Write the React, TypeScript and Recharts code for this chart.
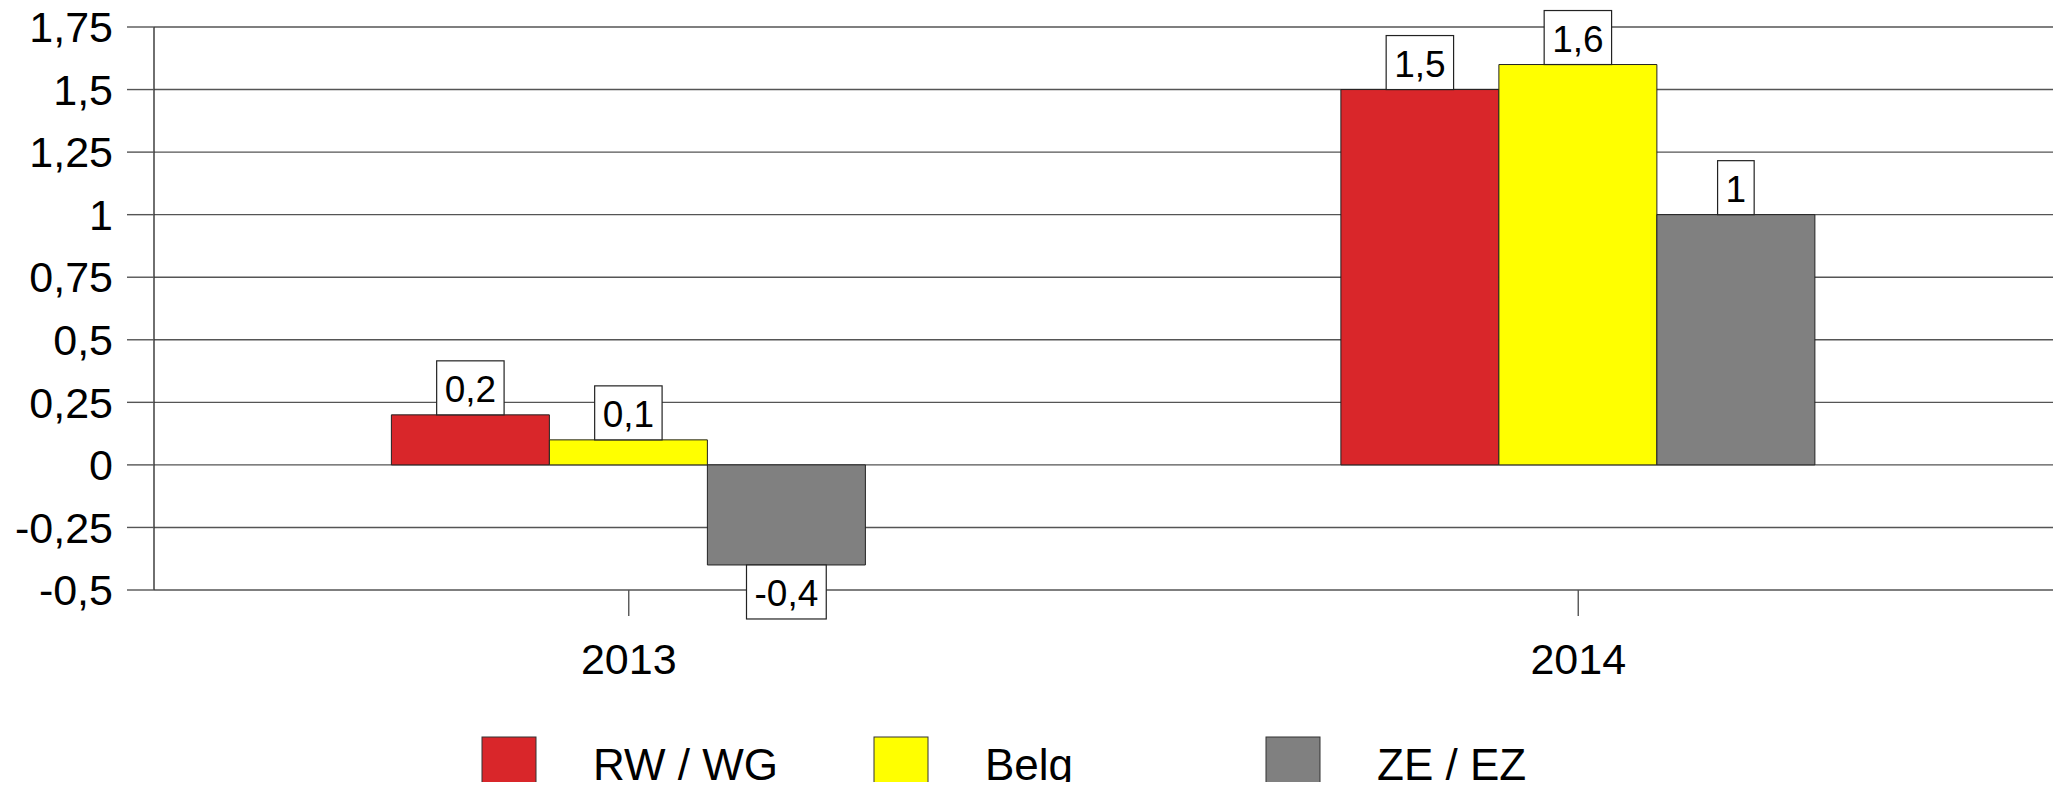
import { BarChart, Bar, XAxis, YAxis, CartesianGrid, Legend, LabelList } from 'recharts';

const categories = ['2013', '2014'];
const rwWg = [0.2, 1.5];
const belg = [0.1, 1.6];
const zeEz = [-0.4, 1];
const yTicks = [-0.5, -0.25, 0, 0.25, 0.5, 0.75, 1, 1.25, 1.5, 1.75];

const SERIES = [
  { key: 'rw', name: 'RW / WG', color: '#d9262a' },
  { key: 'belg', name: 'Belg', color: '#ffff00' },
  { key: 'ze', name: 'ZE / EZ', color: '#808080' },
];

const FONT = '"Liberation Sans", Arial, sans-serif';

const data = categories.map((year, i) => ({
  year,
  rw: rwWg[i],
  belg: belg[i],
  ze: zeEz[i],
}));

// German/Belgian style decimal comma
const fmt = (v: number) => String(v).replace('.', ',');

// rough Arial widths, enough to size the label boxes
const textWidth = (s: string, size: number) =>
  s.split('').reduce((w, ch) => w + (ch === ',' ? 0.278 : ch === '-' ? 0.333 : 0.556), 0) * size;

const renderLabel = (props: any) => {
  const x = Number(props.x);
  const y = Number(props.y);
  const width = Number(props.width);
  const height = Number(props.height);
  const value = Number(props.value);
  const text = fmt(value);
  const bw = textWidth(text, 37) + 16;
  const bh = 54;
  const cx = x + width / 2;
  const top = Math.min(y, y + height);
  const bottom = Math.max(y, y + height);
  const boxY = value >= 0 ? top - bh : bottom;
  return (
    <g>
      <rect x={cx - bw / 2} y={boxY} width={bw} height={bh} fill="#fff" stroke="#222" strokeWidth={1.2} />
      <text x={cx} y={boxY + bh - 13} textAnchor="middle" fontSize={37} fontFamily={FONT} fill="#000">
        {text}
      </text>
    </g>
  );
};

const legendX = [482, 874, 1266];

const renderLegend = () => (
  <svg width={2062} height={53} style={{ display: 'block', overflow: 'visible' }}>
    {SERIES.map((s, i) => (
      <g key={s.key}>
        <rect x={legendX[i]} y={0} width={54} height={60} fill={s.color} stroke="#333" strokeWidth={1} />
        <text x={legendX[i] + 111} y={43} fontSize={44} fontFamily={FONT} fill="#000">
          {s.name}
        </text>
      </g>
    ))}
  </svg>
);

export default function App() {
  return (
    <div style={{ margin: -8, width: 2062, height: 790, background: '#fff', overflow: 'hidden' }}>
      <BarChart
        width={2062}
        height={790}
        data={data}
        margin={{ top: 27, right: 9, left: 0, bottom: 0 }}
        barCategoryGap="25%"
        barGap={0}
      >
        <CartesianGrid vertical={false} stroke="#555" strokeWidth={1.4} />
        <XAxis
          dataKey="year"
          height={147}
          axisLine={false}
          tickSize={26}
          tickMargin={27}
          tickLine={{ stroke: '#555', strokeWidth: 1.4 }}
          tick={{ fontSize: 43, fontFamily: FONT, fill: '#000' }}
        />
        <YAxis
          width={154}
          domain={[-0.5, 1.75]}
          ticks={yTicks}
          interval={0}
          tickFormatter={fmt}
          tickSize={27}
          tickMargin={14}
          axisLine={{ stroke: '#333', strokeWidth: 1.4 }}
          tickLine={{ stroke: '#555', strokeWidth: 1.4 }}
          tick={{ fontSize: 43, fontFamily: FONT, fill: '#000' }}
        />
        <Legend verticalAlign="bottom" height={53} content={renderLegend} />
        {SERIES.map((s) => (
          <Bar
            key={s.key}
            dataKey={s.key}
            name={s.name}
            fill={s.color}
            stroke="#222"
            strokeWidth={1}
            isAnimationActive={false}
          >
            <LabelList dataKey={s.key} content={renderLabel} />
          </Bar>
        ))}
      </BarChart>
    </div>
  );
}
